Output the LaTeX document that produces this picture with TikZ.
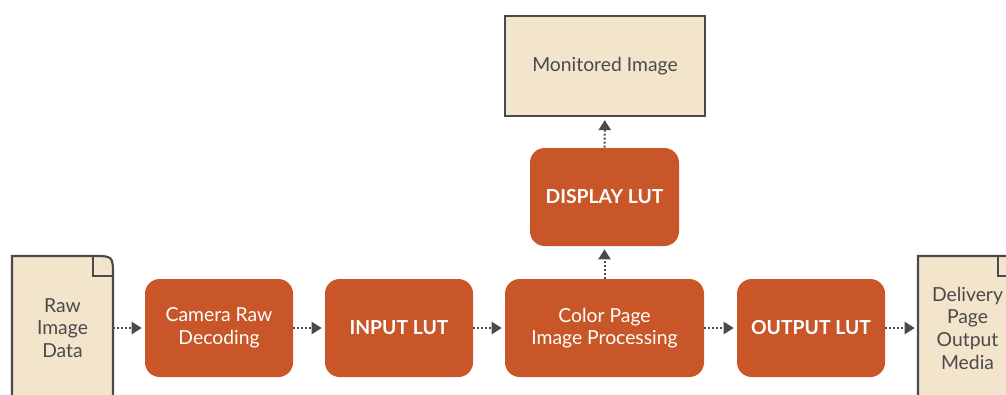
\documentclass[tikz,border=0pt]{standalone}
\usepackage{fontspec}
\setmainfont{Lato}
\usetikzlibrary{arrows.meta,calc}
\definecolor{lutorange}{HTML}{C85628}
\definecolor{docbeige}{HTML}{F3E5CC}
\definecolor{edgegrey}{HTML}{4A4A4A}
\begin{document}
\begin{tikzpicture}[
    x=0.75pt, y=-0.75pt,
    font=\fontsize{14.5}{17}\selectfont,
    stage/.style={rectangle, rounded corners=11pt, fill=lutorange, text=white, align=center, inner sep=0pt, minimum width=111pt, minimum height=73.5pt},
    boldstage/.style={stage, font=\fontsize{14.5}{17}\selectfont\bfseries},
    screen/.style={rectangle, draw=edgegrey, line width=1.6pt, fill=docbeige, text=edgegrey, align=center, inner sep=0pt, minimum width=150pt, minimum height=75pt},
    page/.style={rectangle, align=center, text=edgegrey, inner sep=0pt, minimum width=75.75pt, minimum height=108pt},
    docline/.style={draw=edgegrey, line width=1.6pt, fill=docbeige},
    flow/.style={draw=edgegrey, line width=1.5pt, dash pattern=on 1.5pt off 1.5pt, -{Triangle[length=7.5pt,width=9pt]}, shorten >=2.25pt}
]
    \useasboundingbox (0,0) rectangle (1006,394);
    \clip (0,0) rectangle (1006,394);

    % pages at both ends
    \path (62.5,328) coordinate (rawc);
    \path (967.5,328) coordinate (delc);
    \path[docline] ($(rawc)+(-50.5,72)$) -- ($(rawc)+(-50.5,-72)$) -- ($(rawc)+(30.5,-72)$) .. controls ($(rawc)+(50.5,-72)$) .. ($(rawc)+(50.5,-52)$) -- ($(rawc)+(50.5,72)$) -- cycle;
    \draw[edgegrey, line width=1.6pt] ($(rawc)+(30.5,-72)$) |- ($(rawc)+(50.5,-52)$);
    \path[docline] ($(delc)+(-49.5,72)$) -- ($(delc)+(-49.5,-72)$) -- ($(delc)+(30.5,-72)$) .. controls ($(delc)+(50.5,-72)$) .. ($(delc)+(50.5,-52)$) -- ($(delc)+(50.5,72)$) -- cycle;
    \draw[edgegrey, line width=1.6pt] ($(delc)+(30.5,-72)$) |- ($(delc)+(50.5,-52)$);

    \node[page] (raw) at (rawc) {Raw\\Image\\Data};
    \node[page, minimum width=74.25pt] (delivery) at (delc) {Delivery\\Page\\Output\\Media};

    % processing chain
    \node[stage] (camera) at (219,328) {Camera Raw\\Decoding};
    \node[boldstage] (input) at (399,328) {INPUT LUT};
    \node[stage, minimum width=149.25pt] (colorpage) at (604.5,328) {Color Page\\Image Processing};
    \node[boldstage] (output) at (811,328) {OUTPUT LUT};
    \node[boldstage, minimum width=111.75pt] (display) at (604.5,197) {DISPLAY LUT};
    \node[screen] (monitor) at (605,66) {Monitored Image};

    \draw[flow] (raw) -- (camera);
    \draw[flow] (camera) -- (input);
    \draw[flow] (input) -- (colorpage);
    \draw[flow] (colorpage) -- (output);
    \draw[flow] (output) -- (delivery.west);
    \draw[flow] (colorpage) -- (display);
    \draw[flow] (display) -- (monitor);
\end{tikzpicture}
\end{document}
